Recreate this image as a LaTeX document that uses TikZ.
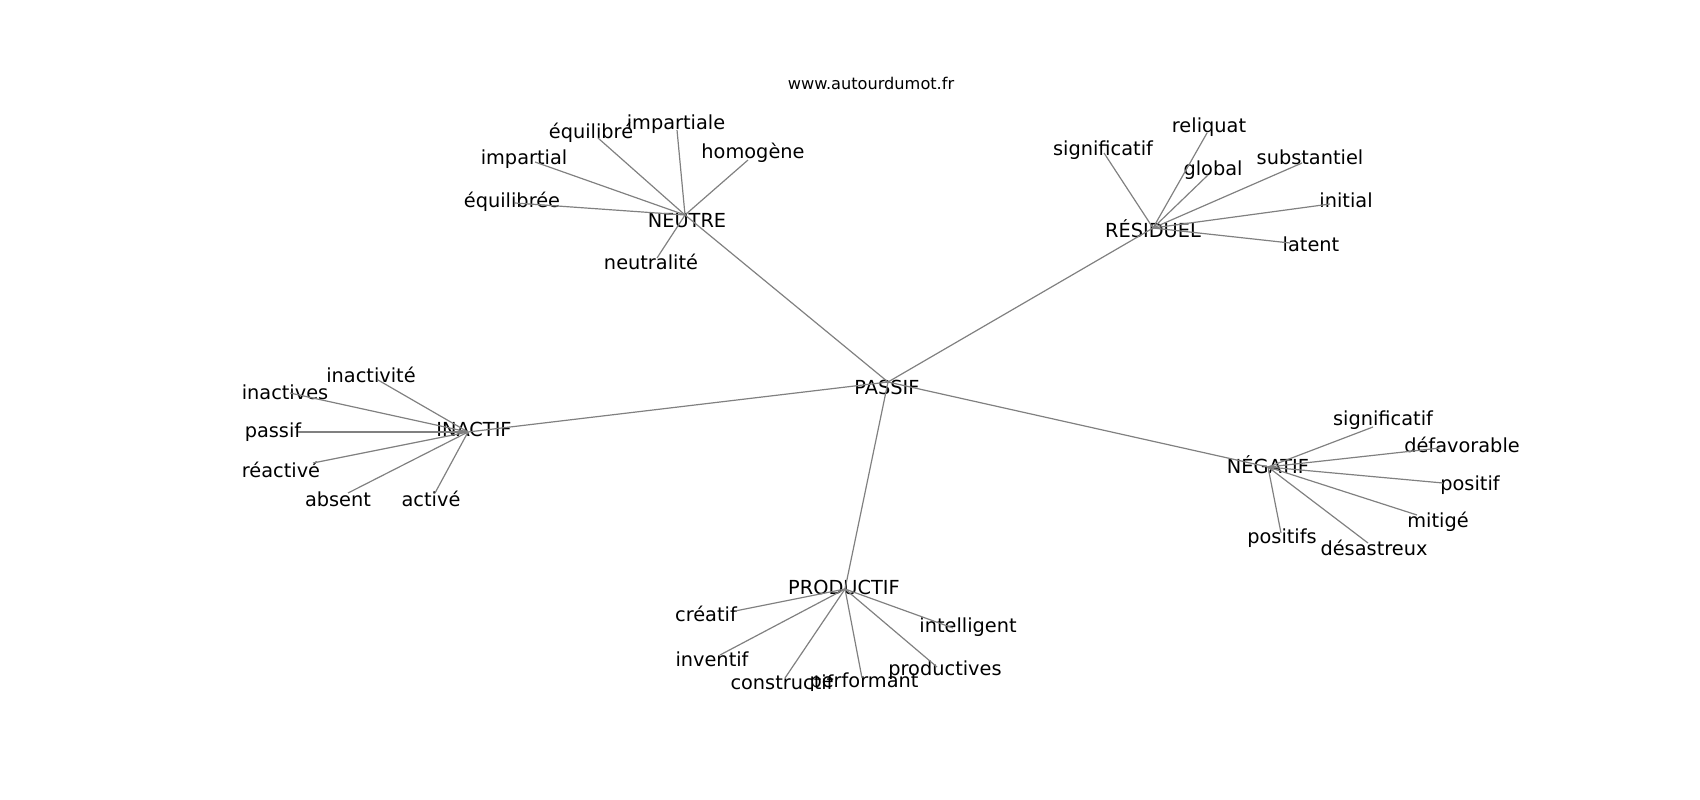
\documentclass[tikz,border=0pt]{standalone}
\usepackage{fontspec}
\setmainfont{DejaVu Sans}
\begin{document}
\begin{tikzpicture}[x=0.01cm,y=-0.01cm,
  word/.style={inner sep=0pt,font=\fontsize{5.5}{6.6}\selectfont},
  link/.style={draw=gray,line width=0.34pt}]
\useasboundingbox (0,0) rectangle (1700,800);
\node[inner sep=0pt,font=\fontsize{4.6}{5.5}\selectfont] (title) at (871,83) {www.autourdumot.fr};

\coordinate (p) at (888,382);
\node[word] (pl) at (887,387) {PASSIF};
\coordinate (n) at (685,215);
\node[word] (nl) at (687,221) {NEUTRE};
\coordinate (r) at (1153,228);
\node[word] (rl) at (1153,229) {RÉSIDUEL};
\coordinate (i) at (468,432);
\node[word] (il) at (474,429) {INACTIF};
\coordinate (g) at (1268,467);
\node[word] (gl) at (1268,465) {NÉGATIF};
\coordinate (d) at (845,589);
\node[word] (dl) at (844,587) {PRODUCTIF};

\path[link] (p) -- (n);
\path[link] (p) -- (r);
\path[link] (p) -- (i);
\path[link] (p) -- (g);
\path[link] (p) -- (d);

\coordinate (n1) at (677,130);
\node[word] (n1l) at (676,124) {impartiale};
\coordinate (n2) at (598,138);
\node[word] (n2l) at (591,133) {équilibré};
\coordinate (n3) at (535,162);
\node[word] (n3l) at (524,159) {impartial};
\coordinate (n4) at (515,203);
\node[word] (n4l) at (512,202) {équilibrée};
\coordinate (n5) at (748,160);
\node[word] (n5l) at (753,153) {homogène};
\coordinate (n6) at (657,258);
\node[word] (n6l) at (651,262) {neutralité};
\path[link] (n) -- (n1);
\path[link] (n) -- (n2);
\path[link] (n) -- (n3);
\path[link] (n) -- (n4);
\path[link] (n) -- (n5);
\path[link] (n) -- (n6);

\coordinate (r1) at (1104,153);
\node[word] (r1l) at (1103,150) {significatif};
\coordinate (r2) at (1207,133);
\node[word] (r2l) at (1209,127) {reliquat};
\coordinate (r3) at (1208,175);
\node[word] (r3l) at (1213,170) {global};
\coordinate (r4) at (1302,163);
\node[word] (r4l) at (1310,157) {substantiel};
\coordinate (r5) at (1330,204);
\node[word] (r5l) at (1346,200) {initial};
\coordinate (r6) at (1290,243);
\node[word] (r6l) at (1311,244) {latent};
\path[link] (r) -- (r1);
\path[link] (r) -- (r2);
\path[link] (r) -- (r3);
\path[link] (r) -- (r4);
\path[link] (r) -- (r5);
\path[link] (r) -- (r6);

\coordinate (i1) at (378,380);
\node[word] (i1l) at (371,375) {inactivité};
\coordinate (i2) at (290,393);
\node[word] (i2l) at (285,392) {inactives};
\coordinate (i3) at (298,432);
\node[word] (i3l) at (273,432) {passif};
\coordinate (i4) at (313,463);
\node[word] (i4l) at (281,470) {réactivé};
\coordinate (i5) at (348,493);
\node[word] (i5l) at (338,499) {absent};
\coordinate (i6) at (435,493);
\node[word] (i6l) at (431,499) {activé};
\path[link] (i) -- (i1);
\path[link] (i) -- (i2);
\path[link] (i) -- (i3);
\path[link] (i) -- (i4);
\path[link] (i) -- (i5);
\path[link] (i) -- (i6);

\coordinate (g1) at (1373,427);
\node[word] (g1l) at (1383,420) {significatif};
\coordinate (g2) at (1440,448);
\node[word] (g2l) at (1462,445) {défavorable};
\coordinate (g3) at (1443,483);
\node[word] (g3l) at (1470,485) {positif};
\coordinate (g4) at (1417,515);
\node[word] (g4l) at (1438,522) {mitigé};
\coordinate (g5) at (1281,533);
\node[word] (g5l) at (1282,538) {positifs};
\coordinate (g6) at (1368,543);
\node[word] (g6l) at (1374,548) {désastreux};
\path[link] (g) -- (g1);
\path[link] (g) -- (g2);
\path[link] (g) -- (g3);
\path[link] (g) -- (g4);
\path[link] (g) -- (g5);
\path[link] (g) -- (g6);

\coordinate (d1) at (735,611);
\node[word] (d1l) at (706,614) {créatif};
\coordinate (d2) at (953,628);
\node[word] (d2l) at (968,627) {intelligent};
\coordinate (d3) at (720,655);
\node[word] (d3l) at (712,659) {inventif};
\coordinate (d4) at (785,678);
\node[word] (d4l) at (782,682) {constructif};
\coordinate (d5) at (862,678);
\node[word] (d5l) at (864,682) {performant};
\coordinate (d6) at (937,667);
\node[word] (d6l) at (945,670) {productives};
\path[link] (d) -- (d1);
\path[link] (d) -- (d2);
\path[link] (d) -- (d3);
\path[link] (d) -- (d4);
\path[link] (d) -- (d5);
\path[link] (d) -- (d6);
\end{tikzpicture}
\end{document}
